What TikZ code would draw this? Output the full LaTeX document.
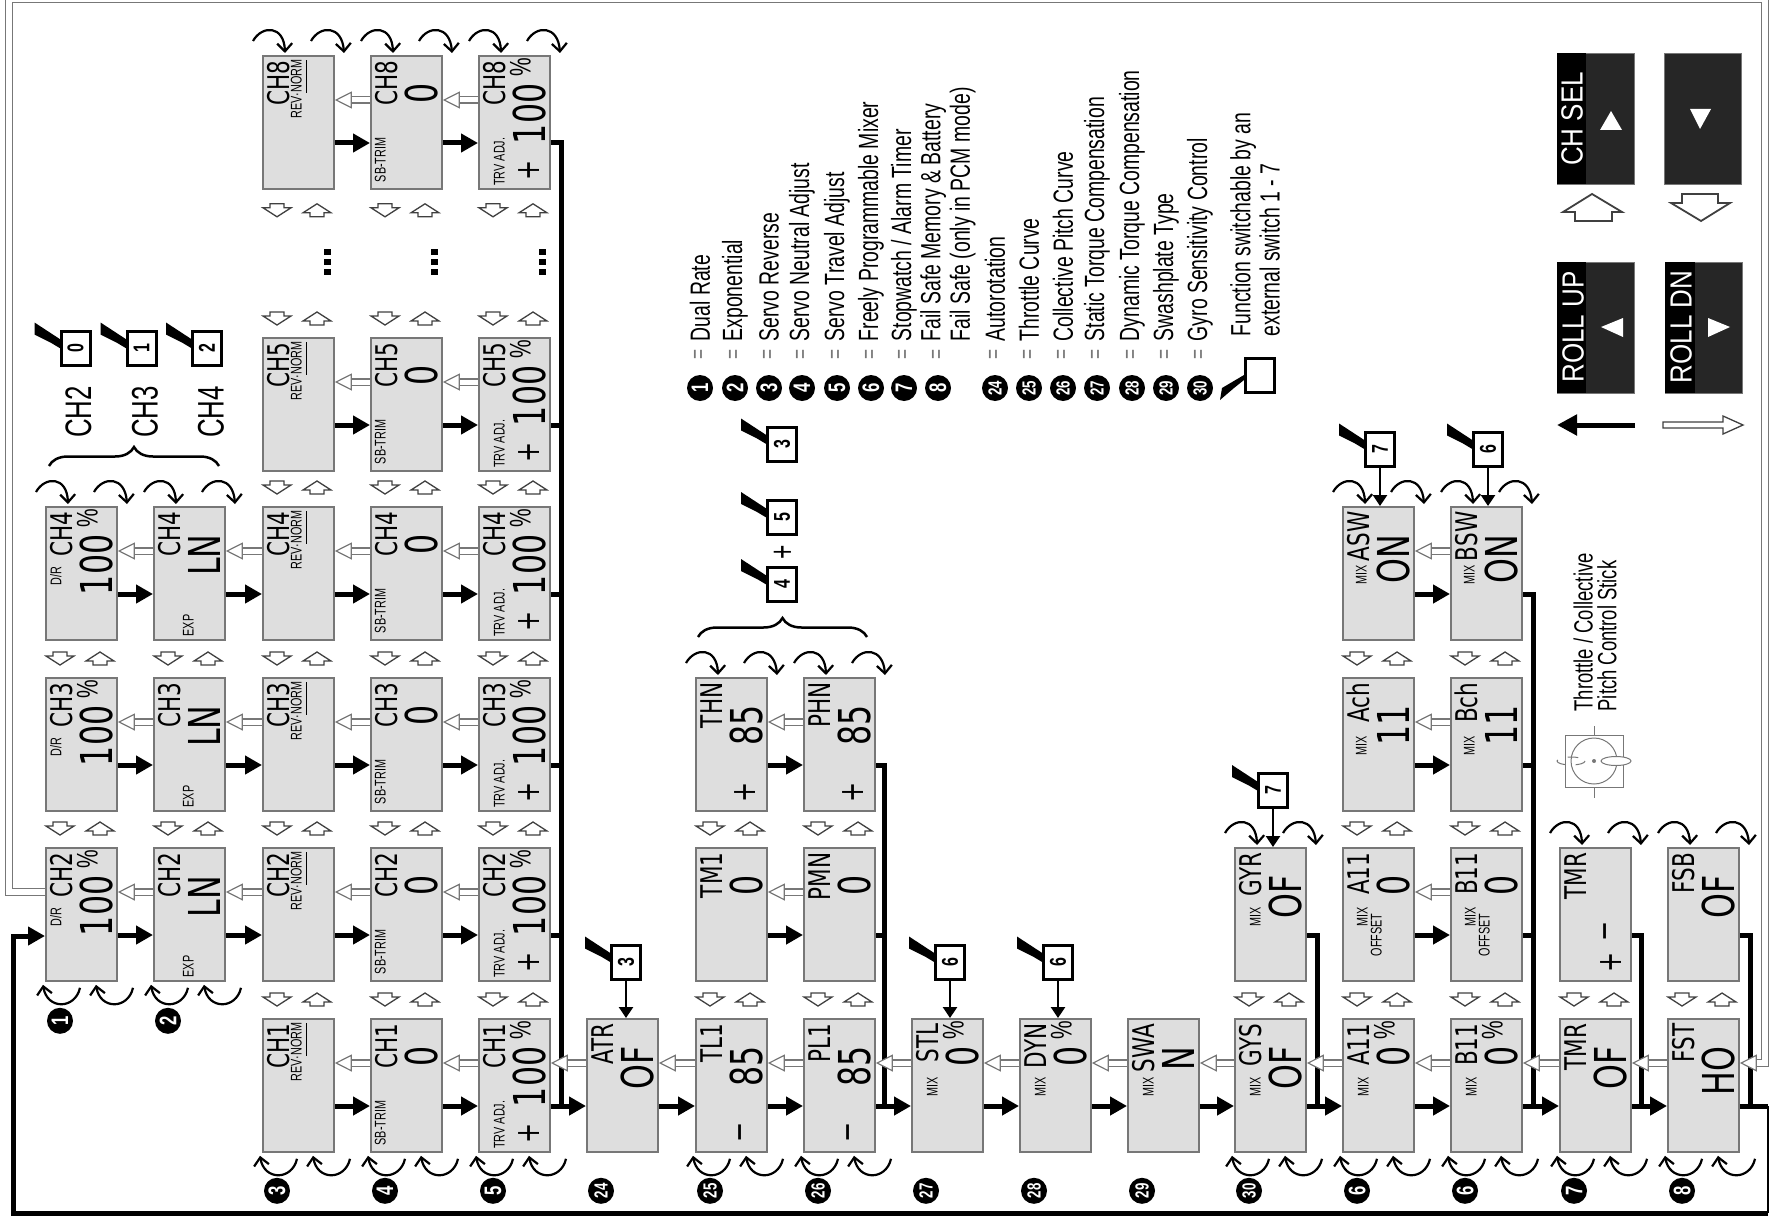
\documentclass[tikz,border=0pt]{standalone}
\usepackage{fontspec}
\setmainfont[FakeStretch=0.7]{Liberation Sans}
\newfontfamily\lcdfont[FakeStretch=0.72]{DejaVu Sans}
\newfontfamily\btnfont[FakeStretch=0.85]{Liberation Sans}
\usetikzlibrary{shapes,arrows.meta,decorations.pathreplacing}

\definecolor{lcdgray}{HTML}{DEDEDE}
\definecolor{lcdedge}{HTML}{777777}
\definecolor{btngray}{HTML}{262626}

\tikzset{
  lcdbox/.style={rectangle, draw=lcdedge, line width=.18mm, fill=lcdgray, minimum width=7.1mm, minimum height=13.3mm, inner sep=0pt, anchor=north west},
  lcdlab/.style={rotate=90, anchor=east, inner sep=0pt, text depth=0pt, text height=2.2mm, font=\lcdfont\fontsize{8.5}{9}\selectfont},
  lcdval/.style={rotate=90, anchor=east, inner sep=0pt, text depth=0pt, text height=3.2mm, font=\lcdfont\fontsize{12.5}{13}\selectfont},
  lcdpct/.style={rotate=90, anchor=east, inner sep=0pt, text depth=0pt, text height=1.7mm, font=\fontsize{8.5}{9}\selectfont},
  lcdsmall/.style={rotate=90, anchor=east, inner sep=0pt, text depth=0pt, text height=1.1mm, font=\fontsize{4.4}{5}\selectfont},
  lcdsign/.style={rotate=90, inner sep=0pt, font=\lcdfont\fontsize{9.5}{10}\selectfont},
  fwdline/.style={line width=.5mm, -{Triangle[length=1.7mm,width=1.8mm]}},
  busline/.style={line width=.5mm},
  bwdline/.style={draw=lcdedge, line width=.12mm, double=white, double distance=.5mm, -{Triangle[length=1.7mm,width=1.7mm,fill=white]}},
  turnline/.style={line width=.22mm, -{Straight Barb[length=.8mm,width=1.5mm]}},
  houseline/.style={draw=black!75, line width=.13mm, fill=white},
  swbox/.style={rectangle, draw, line width=.3mm, fill=white, rotate=90, minimum width=3.4mm, minimum height=2.9mm, inner sep=0pt, font=\bfseries\fontsize{6.5}{7}\selectfont},
  swline/.style={line width=.25mm, -{Triangle[length=1.1mm,width=1.4mm]}},
  numdot/.style={circle, fill=black, text=white, rotate=90, minimum size=2.6mm, inner sep=0pt, font=\bfseries\fontsize{6.8}{7}\selectfont},
  numdotb/.style={numdot, font=\bfseries\fontsize{5.4}{6}\selectfont},
  legend/.style={rotate=90, anchor=west, inner sep=0pt, align=left, font=\fontsize{7.9}{6.8}\selectfont},
  chname/.style={rotate=90, inner sep=0pt, font=\fontsize{10.5}{11}\selectfont},
  btn/.style={rectangle, draw=lcdedge, line width=.1mm, fill=btngray, minimum width=7.7mm, minimum height=13.1mm, inner sep=0pt, anchor=north west},
  btntext/.style={rotate=90, inner sep=0pt, text=white, font=\btnfont\fontsize{8.7}{9}\selectfont},
  curly/.style={line width=.25mm, decorate, decoration={brace, amplitude=1.9mm}}
}

\newcommand{\lcd}[5]{%
  \node [lcdbox] (#1) at (#2,#3) {};
  \node [lcdlab] (#1-lab) at ([shift={(16,5)}]#1.north west) {#4};
  \node [lcdval] (#1-val) at ([shift={(51,28)}]#1.north west) {#5};
}
\newcommand{\lcdtag}[5]{\node [lcdsmall] (#1-#2) at ([shift={(#3,#4)}]#1.north west) {#5};}
\newcommand{\lcdpc}[1]{\node [lcdpct] (#1-pc) at ([shift={(44,2)}]#1.north west) {\%};}
\newcommand{\lcdplus}[3]{\node [lcdsign] (#1-pl) at ([shift={(#2,#3)}]#1.north west) {+};}
\newcommand{\lcdminus}[3]{\node [lcdsign] (#1-mn) at ([shift={(#2,#3)}]#1.north west) {−};}
\newcommand{\fwd}[2]{\draw [fwdline] ([shift={(0,88)}]#1.north east) -- ([shift={(0,88)}]#2.north west);}
\newcommand{\bwd}[2]{\draw [bwdline] ([shift={(0,45)}]#1.north west) -- ([shift={(0,45)}]#2.north east);}
\newcommand{\arcstop}[1]{%
  \draw [turnline] ([shift={(-9,-14)}]#1.north west) .. controls ([shift={(0,-30)}]#1.north west) and ([shift={(22,-30)}]#1.north west) .. ([shift={(23,-2)}]#1.north west);
  \draw [turnline] ([shift={(49,-14)}]#1.north west) .. controls ([shift={(58,-30)}]#1.north west) and ([shift={(80,-30)}]#1.north west) .. ([shift={(82,-2)}]#1.north west);
}
\newcommand{\arcsbot}[1]{%
  \draw [turnline] ([shift={(35,6)}]#1.south west) .. controls ([shift={(30,28)}]#1.south west) and ([shift={(2,28)}]#1.south west) .. ([shift={(-2,3)}]#1.south west);
  \draw [turnline] ([shift={(88,6)}]#1.south west) .. controls ([shift={(83,28)}]#1.south west) and ([shift={(55,28)}]#1.south west) .. ([shift={(51,3)}]#1.south west);
}
\newcommand{\houses}[2]{%
  \draw [houseline] ([shift={(8,#2-6)}]#1) -- ++(14,0) -- ++(0,4) -- ++(7,0) -- ++(-14,9) -- ++(-14,-9) -- ++(7,0) -- cycle;
  \draw [houseline] ([shift={(48,#2+7)}]#1) -- ++(14,0) -- ++(0,-4) -- ++(7,0) -- ++(-14,-9) -- ++(-14,9) -- ++(7,0) -- cycle;
}
\newcommand{\lever}[1]{\fill ([shift={(-25,-7)}]#1.north east) -- ([shift={(1,10)}]#1.north east) -- ([shift={(1,19)}]#1.north east) -- ([shift={(-9,13)}]#1.north east) -- ([shift={(-25,5)}]#1.north east) -- cycle;}

\def\mainchain{dr2/ex2,ex2/rv2,rv2/sb2,sb2/tv2,dr3/ex3,ex3/rv3,rv3/sb3,sb3/tv3,dr4/ex4,ex4/rv4,rv4/sb4,sb4/tv4,rv5/sb5,sb5/tv5,rv8/sb8,sb8/tv8,rv1/sb1,sb1/tv1,tv1/atr,atr/tli,tli/pli,pli/stl,stl/dyn,dyn/swa,swa/gys,gys/rii,rii/bii,bii/tmr,tmr/fst,tmn/pmn,thn/phn,aii/bio,ach/bch,asw/bsw}

\begin{document}
\begin{tikzpicture}[x=.1mm, y=-.1mm]
  \useasboundingbox (0,0) rectangle (1769,1223);

  % channel displays
  \foreach \c/\t in {2/847,3/677,4/506} {
    \lcd{dr\c}{45}{\t}{CH\c}{100}
    \lcdpc{dr\c}
    \lcdtag{dr\c}{tg}{11}{60}{D/R}
    \lcd{ex\c}{153}{\t}{CH\c}{LN}
    \lcdtag{ex\c}{tg}{35}{108}{EXP}
  }
  \foreach \c/\t in {1/1018,2/847,3/677,4/506,5/337,8/55} {
    \lcd{rv\c}{262}{\t}{CH\c}{}
    \lcdtag{rv\c}{tg}{34}{4}{REV·\underline{NORM}}
    \lcd{sb\c}{370}{\t}{CH\c}{0}
    \lcdtag{sb\c}{tg}{10}{82}{SB-TRIM}
    \lcd{tv\c}{478}{\t}{CH\c}{100}
    \lcdpc{tv\c}
    \lcdtag{tv\c}{tg}{21}{82}{TRV ADJ.}
    \lcdplus{tv\c}{51}{115}
  }

  % function displays along the lower row
  \lcd{atr}{586}{1018}{ATR}{OF}
  \lcd{tli}{695}{1018}{TL1}{85}
  \lcdminus{tli}{50}{114}
  \lcd{pli}{803}{1018}{PL1}{85}
  \lcdminus{pli}{50}{114}
  \lcd{stl}{911}{1018}{STL}{0}
  \lcdpc{stl}
  \lcdtag{stl}{tg}{21}{59}{MIX}
  \lcd{dyn}{1019}{1018}{DYN}{0}
  \lcdpc{dyn}
  \lcdtag{dyn}{tg}{21}{59}{MIX}
  \lcd{swa}{1127}{1018}{SWA}{N}
  \lcdtag{swa}{tg}{21}{59}{MIX}
  \lcd{gys}{1234}{1018}{GYS}{OF}
  \lcdtag{gys}{tg}{21}{59}{MIX}
  \lcd{rii}{1342}{1018}{A11}{0}
  \lcdpc{rii}
  \lcdtag{rii}{tg}{21}{59}{MIX}
  \lcd{bii}{1450}{1018}{B11}{0}
  \lcdpc{bii}
  \lcdtag{bii}{tg}{21}{59}{MIX}
  \lcd{tmr}{1559}{1018}{TMR}{OF}
  \lcd{fst}{1667}{1018}{FST}{HO}

  % displays above the lower row
  \lcd{tmn}{695}{847}{TM1}{0}
  \lcd{pmn}{803}{847}{PMN}{0}
  \lcd{thn}{695}{677}{THN}{85}
  \lcdplus{thn}{50}{115}
  \lcd{phn}{803}{677}{PHN}{85}
  \lcdplus{phn}{50}{115}
  \lcd{gyr}{1234}{847}{GYR}{OF}
  \lcdtag{gyr}{tg}{21}{60}{MIX}
  \lcd{aii}{1342}{847}{A11}{0}
  \lcdtag{aii}{tg}{20}{60}{MIX}
  \lcdtag{aii}{ts}{34}{66}{OFFSET}
  \lcd{bio}{1450}{847}{B11}{0}
  \lcdtag{bio}{tg}{20}{60}{MIX}
  \lcdtag{bio}{ts}{34}{66}{OFFSET}
  \lcd{ach}{1342}{677}{Ach}{11}
  \lcdtag{ach}{tg}{19}{59}{MIX}
  \lcd{bch}{1450}{677}{Bch}{11}
  \lcdtag{bch}{tg}{19}{59}{MIX}
  \lcd{asw}{1342}{506}{ASW}{ON}
  \lcdtag{asw}{tg}{19}{59}{MIX}
  \lcd{bsw}{1450}{506}{BSW}{ON}
  \lcdtag{bsw}{tg}{19}{59}{MIX}
  \lcd{tmu}{1559}{847}{TMR}{}
  \lcdplus{tmu}{52}{115}
  \lcdminus{tmu}{51}{84}
  \lcd{fsb}{1667}{847}{FSB}{OF}

  % forward arrows and the black collecting lines
  \foreach \a/\b in \mainchain {\fwd{\a}{\b}}
  \coordinate (jtv) at (561,1106);
  \coordinate (jph) at (884,1106);
  \coordinate (jgy) at (1317,1106);
  \coordinate (jbb) at (1533,1106);
  \coordinate (jtm) at (1641,1106);
  \coordinate (jfs) at (1750,1106);
  \foreach \b/\j in {tv8/jtv,tv5/jtv,tv4/jtv,tv3/jtv,tv2/jtv,phn/jph,pmn/jph,gyr/jgy,bsw/jbb,bch/jbb,bio/jbb,tmu/jtm,fsb/jfs}
    \draw [busline] ([shift={(0,88)}]\b.north east) -| (\j);
  \coordinate (rtop) at (1768,1106);
  \coordinate (rbot) at (1768,1213);
  \coordinate (lbot) at (13,1213);
  \draw [busline] ([shift={(0,88)}]fst.north east) -- (rtop);
  \draw [line width=.15mm] (rtop) -- (rbot);
  \draw [fwdline] (rbot) -- (lbot) |- ([shift={(0,89)}]dr2.north west);

  % return path round the sheet, then the white arrows
  \coordinate (ftl) at (9,-1);
  \coordinate (ftr) at (1765,-1);
  \draw [bwdline, double distance=.65mm] ([shift={(0,45)}]dr2.north west) -| (ftl) -- (ftr) |- ([shift={(0,45)}]fst.north east);
  \foreach \a/\b in \mainchain {\bwd{\b}{\a}}

  % key arcs
  \foreach \b in {rv8,sb8,tv8,dr4,ex4,thn,phn,asw,bsw,gyr,tmu,fsb} {\arcstop{\b}}
  \foreach \b in {dr2,ex2,rv1,sb1,tv1,tli,pli,gys,rii,bii,tmr,fst} {\arcsbot{\b}}

  % small key arrows between rows
  \foreach \b in {rv1,sb1,tv1,dr2,ex2,rv2,sb2,tv2,dr3,ex3,rv3,sb3,tv3,rv4,sb4,tv4,rv5,sb5,tv5,tli,pli,tmn,pmn,gys,rii,bii,tmr,fst,aii,bio,ach,bch}
    {\houses{\b.north west}{-19}}
  \foreach \b in {rv8,sb8,tv8}
    {\houses{\b.south west}{20}}
  \foreach \x in {327,434,542} \foreach \y in {252,262,272}
    \fill (\x-3.5,\y-3) rectangle (\x+3.5,\y+3);

  % number discs under the displays
  \foreach \b/\n in {dr2/1,ex2/2} {\node [numdot] (d\b) at ([shift={(15,39)}]\b.south west) {\n};}
  \foreach \b/\n in {rv1/3,sb1/4,tv1/5,rii/6,bii/6,tmr/7,fst/8} {\node [numdot] (d\b) at ([shift={(15,38)}]\b.south west) {\n};}
  \foreach \b/\n in {atr/24,tli/25,pli/26,stl/27,dyn/28,swa/29,gys/30} {\node [numdotb] (d\b) at ([shift={(15,38)}]\b.south west) {\n};}

  % switches
  \foreach \s/\x/\y/\n in {swa/75.5/348/0,swb/141.5/348/1,swc/207/348/2,swd/782/444/3,swe/782/517.5/5,swf/782/584.5/4} {
    \node [swbox] (\s) at (\x,\y) {\n};
    \lever{\s}
  }
  \foreach \s/\x/\y/\n/\b in {swg/626/962/3/atr,swh/950/962/6/stl,swi/1058/962/6/dyn,swj/1273/790.5/7/gyr,swk/1380/449/7/asw,swl/1488/449/6/bsw} {
    \node [swbox] (\s) at (\x,\y) {\n};
    \lever{\s}
    \draw [swline] (\s.west) -- (\s.west |- \b.north);
  }
  \node [rotate=90, inner sep=0pt, font=\fontsize{10}{11}\selectfont] (swplus) at (784,552) {+};

  % channel names and braces
  \foreach \n/\x in {2/78.5,3/145,4/211} {\node [chname] (chn\n) at (\x,412) {CH\n};}
  \coordinate (bra) at (49,466);
  \coordinate (brb) at (219,466);
  \draw [curly] (bra) -- (brb);
  \coordinate (brc) at (698,637);
  \coordinate (brd) at (867,637);
  \draw [curly] (brc) -- (brd);

  % legend
  \foreach \x/\n/\t in {700/1/Dual Rate,735/2/Exponential,769/3/Servo Reverse,802/4/Servo Neutral Adjust,837/5/Servo Travel Adjust,871/6/Freely Programmable Mixer,904/7/{Stopwatch / Alarm Timer},938/8/} {
    \node [numdot] (lgd\n) at (\x,388) {\n};
    \node [rotate=90, inner sep=0pt, text=lcdedge, font=\fontsize{7}{8}\selectfont] (lge\n) at (\x,354) {=};
    \node [legend] (lgt\n) at (\x,342) {\t};
  }
  \node [legend] (lgfs) at (948,342) {Fail Safe Memory \& Battery\\Fail Safe (only in PCM mode)};
  \foreach \x/\n/\t in {995/24/Autorotation,1029/25/Throttle Curve,1063/26/Collective Pitch Curve,1097/27/Static Torque Compensation,1132/28/Dynamic Torque Compensation,1166/29/Swashplate Type,1200/30/Gyro Sensitivity Control} {
    \node [numdotb] (lgd\n) at (\x,388) {\n};
    \node [rotate=90, inner sep=0pt, text=lcdedge, font=\fontsize{7}{8}\selectfont] (lge\n) at (\x,354) {=};
    \node [legend] (lgt\n) at (\x,342) {\t};
  }
  \node [legend] (lgsw) at (1255,337) {Function switchable by an\\external switch 1 - 7};
  \node [swbox] (lgbox) at (1259.5,375.5) {};
  \fill (1220,400) -- (1222,388) -- (1244,375) -- (1244,380) -- (1234,388) -- cycle;

  % stick
  \draw [line width=.1mm, draw=lcdedge] (1565,735) rectangle (1623,787);
  \draw [line width=.1mm, draw=lcdedge] (1594,761) circle [radius=23];
  \draw [line width=.1mm, draw=lcdedge] (1594,726) -- (1594,735) (1594,787) -- (1594,798);
  \draw [line width=.1mm, draw=lcdedge, dashed] (1571,761) ellipse [x radius=14, y radius=4];
  \draw [line width=.1mm, draw=lcdedge, fill=white] (1616,761) ellipse [x radius=15, y radius=4.5];
  \fill [lcdedge] (1594,761) circle [radius=2];
  \node [legend, font=\fontsize{7.5}{6.8}\selectfont] (stktxt) at (1595,712) {Throttle / Collective\\Pitch Control Stick};

  % buttons
  \node [btn] (chsel) at (1557,53) {};
  \fill [black] (chsel.north west) rectangle (1586,184);
  \node [btntext] (chseltx) at (1572,119) {CH SEL};
  \fill [white] (1611,111) -- (1622,130) -- (1600,130) -- cycle;
  \node [btn] (dnsel) at (1664,53) {};
  \fill [white] (1700,129) -- (1711,109) -- (1690,109) -- cycle;
  \node [btn] (rollup) at (1557,262) {};
  \fill [black] (rollup.north west) rectangle (1586,393);
  \node [btntext] (rolluptx) at (1573,327) {ROLL UP};
  \fill [white] (1601,327) -- (1623,318) -- (1623,337) -- cycle;
  \node [btn] (rolldn) at (1665,262) {};
  \fill [black] (rolldn.north west) rectangle (1695,393);
  \node [btntext] (rolldntx) at (1681,327) {ROLL DN};
  \fill [white] (1730,327) -- (1708,318) -- (1708,337) -- cycle;

  % key arrows beside the buttons
  \draw [houseline, line width=.18mm] (1592,194) -- (1622,212) -- (1612,212) -- (1612,221) -- (1575,221) -- (1575,212) -- (1563,212) -- cycle;
  \draw [houseline, line width=.18mm] (1701,221) -- (1730,203) -- (1718,203) -- (1718,194) -- (1682,194) -- (1682,203) -- (1671,203) -- cycle;
  \coordinate (kba) at (1635,425);
  \coordinate (kbb) at (1557,425);
  \draw [line width=.5mm, -{Triangle[length=2mm,width=2mm]}] (kba) -- (kbb);
  \draw [houseline] (1663,422) -- (1723,422) -- (1723,416) -- (1743,425) -- (1723,434) -- (1723,428) -- (1663,428) -- cycle;
\end{tikzpicture}
\end{document}
